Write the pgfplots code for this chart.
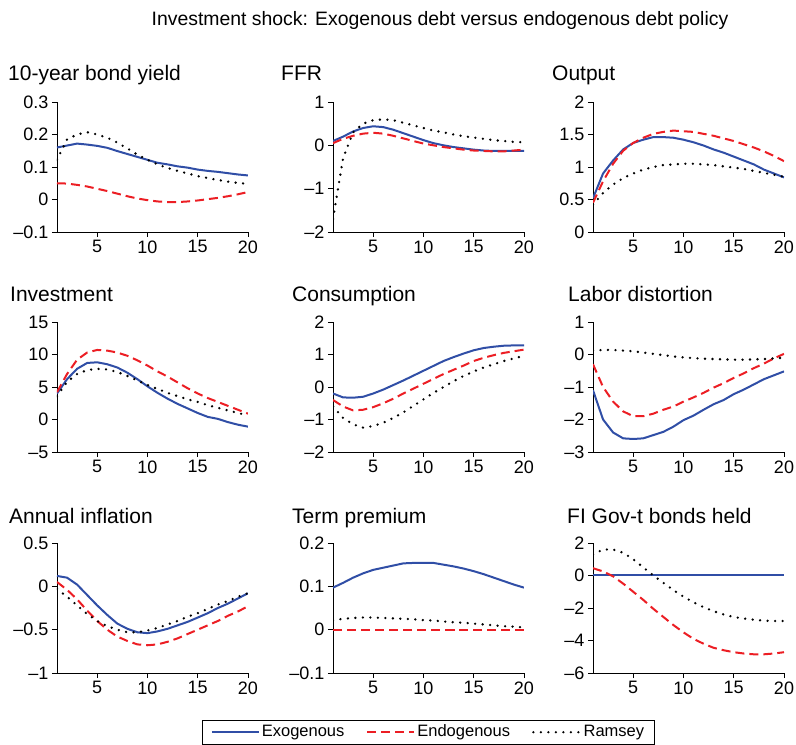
\documentclass[border=0pt]{standalone}
\usepackage{fontspec}
\setmainfont{Liberation Sans}
\usepackage{pgfplots}
\pgfplotsset{compat=1.18}
\usepackage{pgfplotstable}

\definecolor{exoblue}{RGB}{48,78,166}
\definecolor{endored}{RGB}{236,30,36}

% columns: quarter, exogenous debt, endogenous debt, Ramsey
\pgfplotstableread{
t exo endo ram
1 0.160 0.050 0.122
2 0.166 0.049 0.185
3 0.172 0.045 0.200
4 0.169 0.040 0.207
5 0.165 0.033 0.200
6 0.159 0.026 0.190
7 0.149 0.018 0.175
8 0.140 0.010 0.157
9 0.131 0.003 0.138
10 0.122 -0.002 0.122
11 0.113 -0.006 0.108
12 0.108 -0.008 0.097
13 0.102 -0.008 0.088
14 0.098 -0.006 0.080
15 0.092 -0.003 0.072
16 0.088 0.001 0.066
17 0.085 0.005 0.060
18 0.081 0.010 0.055
19 0.077 0.016 0.051
20 0.074 0.023 0.048
}\bondyield

\pgfplotstableread{
t exo endo ram
1 0.10 0.05 -1.70
2 0.20 0.15 -0.30
3 0.32 0.22 0.30
4 0.40 0.27 0.50
5 0.44 0.29 0.58
6 0.42 0.27 0.60
7 0.36 0.22 0.58
8 0.28 0.16 0.52
9 0.20 0.10 0.46
10 0.12 0.04 0.40
11 0.05 0.00 0.34
12 0.00 -0.04 0.30
13 -0.04 -0.07 0.25
14 -0.07 -0.10 0.21
15 -0.10 -0.12 0.18
16 -0.12 -0.13 0.15
17 -0.13 -0.14 0.12
18 -0.13 -0.14 0.10
19 -0.13 -0.12 0.08
20 -0.13 -0.10 0.07
}\ffr

\pgfplotstableread{
t exo endo ram
1 0.52 0.45 0.42
2 0.90 0.78 0.60
3 1.10 1.05 0.73
4 1.27 1.25 0.83
5 1.37 1.37 0.90
6 1.42 1.45 0.96
7 1.46 1.51 1.00
8 1.46 1.54 1.03
9 1.45 1.56 1.04
10 1.42 1.55 1.05
11 1.38 1.54 1.05
12 1.33 1.51 1.04
13 1.27 1.48 1.03
14 1.22 1.44 1.01
15 1.16 1.40 0.99
16 1.10 1.35 0.97
17 1.04 1.30 0.94
18 0.96 1.24 0.91
19 0.90 1.17 0.88
20 0.84 1.09 0.85
}\output

\pgfplotstableread{
t exo endo ram
1 4.0 4.2 3.6
2 6.2 7.0 5.8
3 7.8 9.2 7.0
4 8.7 10.3 7.6
5 8.8 10.7 7.8
6 8.5 10.6 7.7
7 8.0 10.3 7.3
8 7.2 9.8 6.7
9 6.2 9.1 6.0
10 5.1 8.3 5.3
11 4.1 7.4 4.7
12 3.2 6.6 4.1
13 2.4 5.7 3.6
14 1.7 4.8 3.1
15 1.0 4.0 2.7
16 0.4 3.3 2.2
17 0.1 2.7 1.8
18 -0.4 2.1 1.4
19 -0.8 1.5 1.0
20 -1.1 0.9 0.6
}\investment

\pgfplotstableread{
t exo endo ram
1 -0.20 -0.40 -0.60
2 -0.32 -0.60 -0.95
3 -0.33 -0.72 -1.15
4 -0.30 -0.70 -1.25
5 -0.20 -0.62 -1.20
6 -0.08 -0.50 -1.10
7 0.06 -0.36 -0.95
8 0.20 -0.20 -0.78
9 0.35 -0.05 -0.58
10 0.50 0.10 -0.38
11 0.65 0.25 -0.18
12 0.80 0.40 0.00
13 0.92 0.53 0.18
14 1.03 0.66 0.34
15 1.13 0.80 0.48
16 1.20 0.90 0.60
17 1.24 0.98 0.70
18 1.27 1.05 0.80
19 1.28 1.10 0.88
20 1.28 1.15 0.96
}\consumption

\pgfplotstableread{
t exo endo ram
1 -1.10 -0.30 0.12
2 -2.00 -1.00 0.14
3 -2.40 -1.45 0.14
4 -2.58 -1.75 0.12
5 -2.60 -1.90 0.10
6 -2.58 -1.90 0.06
7 -2.48 -1.82 0.02
8 -2.38 -1.70 -0.02
9 -2.22 -1.60 -0.06
10 -2.02 -1.45 -0.09
11 -1.88 -1.32 -0.11
12 -1.70 -1.18 -0.13
13 -1.53 -1.02 -0.14
14 -1.40 -0.88 -0.15
15 -1.22 -0.72 -0.16
16 -1.08 -0.58 -0.16
17 -0.92 -0.42 -0.15
18 -0.76 -0.28 -0.14
19 -0.64 -0.12 -0.12
20 -0.52 0.02 -0.10
}\labor

\pgfplotstableread{
t exo endo ram
1 0.12 0.05 -0.03
2 0.10 -0.04 -0.12
3 0.02 -0.15 -0.22
4 -0.10 -0.28 -0.32
5 -0.22 -0.40 -0.40
6 -0.33 -0.50 -0.46
7 -0.43 -0.58 -0.50
8 -0.49 -0.63 -0.53
9 -0.53 -0.67 -0.53
10 -0.54 -0.68 -0.51
11 -0.52 -0.67 -0.48
12 -0.49 -0.64 -0.44
13 -0.45 -0.60 -0.40
14 -0.41 -0.55 -0.35
15 -0.36 -0.50 -0.31
16 -0.31 -0.45 -0.26
17 -0.25 -0.40 -0.21
18 -0.20 -0.34 -0.17
19 -0.14 -0.29 -0.12
20 -0.08 -0.23 -0.08
}\inflation

\pgfplotstableread{
t exo endo ram
1 0.097 0 0.022
2 0.108 0 0.025
3 0.120 0 0.027
4 0.130 0 0.028
5 0.138 0 0.028
6 0.143 0 0.027
7 0.148 0 0.026
8 0.153 0 0.025
9 0.154 0 0.024
10 0.154 0 0.022
11 0.154 0 0.021
12 0.150 0 0.019
13 0.146 0 0.017
14 0.141 0 0.016
15 0.135 0 0.014
16 0.128 0 0.012
17 0.120 0 0.010
18 0.112 0 0.008
19 0.104 0 0.007
20 0.097 0 0.005
}\termpremium

\pgfplotstableread{
t exo endo ram
1 0.05 0.45 1.30
2 0.05 0.25 1.60
3 0.05 -0.05 1.60
4 0.05 -0.50 1.40
5 0.05 -1.00 1.00
6 0.05 -1.50 0.50
7 0.05 -2.05 0.00
8 0.05 -2.55 -0.45
9 0.05 -3.05 -0.90
10 0.05 -3.50 -1.30
11 0.05 -3.90 -1.65
12 0.05 -4.20 -1.95
13 0.05 -4.45 -2.20
14 0.05 -4.60 -2.40
15 0.05 -4.72 -2.55
16 0.05 -4.80 -2.65
17 0.05 -4.85 -2.72
18 0.05 -4.85 -2.78
19 0.05 -4.80 -2.80
20 0.05 -4.72 -2.80
}\bonds

\pgfplotsset{
  irf/.style={
    scale only axis, width=191pt, height=130pt,
    anchor=south west,
    xmin=1, xmax=20,
    xtick={5,10,15,20}, xticklabels={5,10,15,20},
    axis lines=left, axis line style={-, line width=0.8pt},
    tick align=outside, major tick length=5pt,
    tick style={black, line width=0.8pt},
    ticklabel style={font=\fontsize{18}{18}\selectfont},
  },
  exo/.style={exoblue, line width=2pt, no marks},
  endo/.style={endored, line width=2pt, dash pattern=on 9pt off 5pt, no marks},
  ramsey/.style={black, line width=2.6pt, line cap=round, dash pattern=on 0pt off 7.5pt, no marks},
}

\newcommand{\panel}[1]{%
  \addplot[exo] table[x=t, y=exo] {#1};
  \addplot[endo] table[x=t, y=endo] {#1};
  \addplot[ramsey] table[x=t, y=ram] {#1};
}

\begin{document}
\begin{tikzpicture}
\path[use as bounding box] (0pt,0pt) rectangle (796pt,745pt);

\node[anchor=base, font=\fontsize{19.4}{19.4}\selectfont] at (440pt,719pt)
  {Investment shock: Exogenous debt versus endogenous debt policy};

% row 1
\begin{axis}[irf, at={(57pt,513pt)}, ymin=-0.1, ymax=0.3,
  ytick={-0.1,0,0.1,0.2,0.3}, yticklabels={–0.1,0,0.1,0.2,0.3}]
  \panel{\bondyield}
\end{axis}
\begin{axis}[irf, at={(333pt,513pt)}, ymin=-2, ymax=1,
  ytick={-2,-1,0,1}, yticklabels={–2,–1,0,1}]
  \panel{\ffr}
\end{axis}
\begin{axis}[irf, at={(593pt,513pt)}, ymin=0, ymax=2,
  ytick={0,0.5,1,1.5,2}, yticklabels={0,0.5,1,1.5,2}]
  \panel{\output}
\end{axis}

% row 2
\begin{axis}[irf, at={(57pt,293pt)}, ymin=-5, ymax=15,
  ytick={-5,0,5,10,15}, yticklabels={–5,0,5,10,15}]
  \panel{\investment}
\end{axis}
\begin{axis}[irf, at={(333pt,293pt)}, ymin=-2, ymax=2,
  ytick={-2,-1,0,1,2}, yticklabels={–2,–1,0,1,2}]
  \panel{\consumption}
\end{axis}
\begin{axis}[irf, at={(593pt,293pt)}, ymin=-3, ymax=1,
  ytick={-3,-2,-1,0,1}, yticklabels={–3,–2,–1,0,1}]
  \panel{\labor}
\end{axis}

% row 3
\begin{axis}[irf, at={(57pt,72pt)}, ymin=-1, ymax=0.5,
  ytick={-1,-0.5,0,0.5}, yticklabels={–1,–0.5,0,0.5}]
  \panel{\inflation}
\end{axis}
\begin{axis}[irf, at={(333pt,72pt)}, ymin=-0.1, ymax=0.2,
  ytick={-0.1,0,0.1,0.2}, yticklabels={–0.1,0,0.1,0.2},
  legend columns=3,
  legend image code/.code={\draw[#1] (0pt,0pt) -- (47pt,0pt);},
  legend style={at={(0.5,-0.36)}, anchor=north, draw=black, line width=0.8pt,
    font=\fontsize{16.5}{16.5}\selectfont, inner xsep=8pt, inner ysep=2pt,
    nodes={text height=12pt, text depth=4pt},
    /tikz/every even column/.append style={column sep=20pt}}]
  \panel{\termpremium}
  \legend{Exogenous,Endogenous,Ramsey}
\end{axis}
\begin{axis}[irf, at={(593pt,72pt)}, ymin=-6, ymax=2,
  ytick={-6,-4,-2,0,2}, yticklabels={–6,–4,–2,0,2}]
  \panel{\bonds}
\end{axis}

% panel titles
\begin{scope}[every node/.style={anchor=base west, font=\fontsize{21}{21}\selectfont, inner sep=0pt}]
\node at (8pt,664pt) {10-year bond yield};
\node at (281pt,664pt) {FFR};
\node at (552pt,664pt) {Output};
\node at (10pt,443pt) {Investment};
\node at (292pt,443pt) {Consumption};
\node at (568pt,443pt) {Labor distortion};
\node at (9pt,221pt) {Annual inflation};
\node at (292pt,221pt) {Term premium};
\node at (567pt,221pt) {FI Gov-t bonds held};
\end{scope}
\end{tikzpicture}
\end{document}
